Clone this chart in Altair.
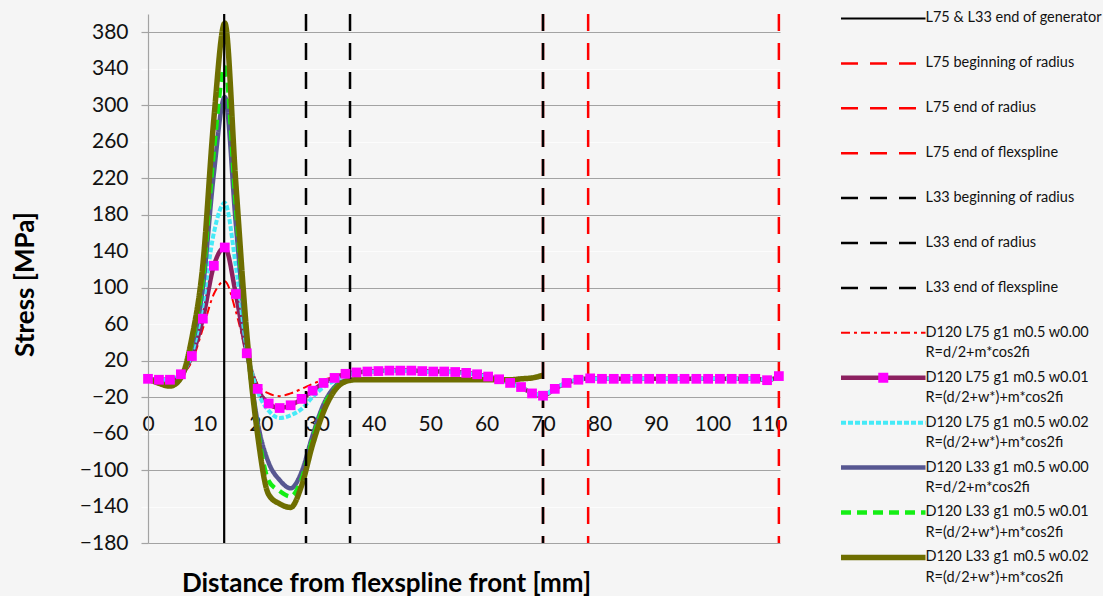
import altair as alt
import pandas as pd

# ---------------- data ----------------
X75 = [0.0, 1.94, 3.89, 5.83, 7.78, 9.72, 11.67, 13.61, 15.56, 17.5,
       19.44, 21.39, 23.33, 25.28, 27.22, 29.17, 31.11, 33.06, 35.0, 36.94,
       38.89, 40.83, 42.78, 44.72, 46.67, 48.61, 50.56, 52.5, 54.44, 56.39,
       58.33, 60.28, 62.22, 64.17, 66.11, 68.06, 70.0,
       72.09, 74.18, 76.27, 78.36, 80.45, 82.54, 84.63, 86.72, 88.81,
       90.9, 92.99, 95.08, 97.17, 99.26, 101.35, 103.44, 105.53, 107.62, 109.71, 111.8]
X33 = X75[:37]

L75_W000 = [0, -1, -1, 4, 19, 55, 93, 107, 74, 27,
            -6, -16, -19, -16, -11, -5.5, -1, 2, 5, 6.5,
            7.5, 8, 8.5, 8.5, 8.5, 8, 7.5, 7.5, 7, 6,
            4.5, 2, -1, -4.5, -9, -15, -17,
            -10, -4, -1, 0.5, 0, 0, 0, 0, 0,
            0, 0, 0, 0, 0, 0, 0, 0, 0, -1, 2.5]
L75_W001 = [0, -1, -1, 5, 25, 66, 124, 144, 93, 28,
            -11, -27, -32, -29, -22, -13, -4.5, 1, 5.5, 7,
            8, 8.5, 9, 9, 9, 8.5, 8, 8, 7.5, 6.5,
            5, 2.5, -0.5, -4.5, -9, -16, -18.5,
            -11, -4.5, -1, 0.5, 0, 0, 0, 0, 0,
            0, 0, 0, 0, 0, 0, 0, 0, 0, -1.5, 3]
L75_W002 = [0, -1, -1, 5, 28, 82, 160, 193, 124, 33,
            -14, -35, -43, -40, -33, -20, -9, -2, 4, 6.5,
            7.5, 8, 8.5, 8.5, 8.5, 8, 7.5, 7.5, 7, 6,
            4.5, 2, -1, -4.5, -9, -15.5, -18,
            -10.5, -4, -1, 0, 0, 0, 0, 0, 0,
            0, 0, 0, 0, 0, 0, 0, 0, 0, -1, 2.5]
L33_W000 = [0, -4, -7, 1, 36, 100, 225, 309, 170, 40,
            -48, -92, -111, -120, -102, -62, -28, -9, -2, -1,
            -1, -1, -1, -1, -1, -1, -1, -1, -1, -1,
            -1, -1, -1, -1, 0, 1, 3]
L33_W001 = [0, -4, -7, 1, 40, 110, 250, 342, 190, 44,
            -56, -112, -123, -129, -110, -66, -31, -11, -2, -1,
            -1, -1, -1, -1, -1, -1, -1, -1, -1, -1,
            -1, -1, -1, -1, 0, 1, 4]
L33_W002 = [0, -5, -8, 1, 45, 125, 285, 390, 215, 50,
            -62, -127, -137, -141, -117, -72, -36, -13, -3, -1,
            -1, -1, -1, -1, -1, -1, -1, -1, -1, -1,
            -1, -1, -1, -1, 0, 1, 4]

SERIES = [
    "L75 & L33 end of generator",
    "L75 beginning of radius",
    "L75 end of radius",
    "L75 end of flexspline",
    "L33 beginning of radius",
    "L33 end of radius",
    "L33 end of flexspline",
    "D120 L75 g1 m0.5 w0.00",
    "D120 L75 g1 m0.5 w0.01",
    "D120 L75 g1 m0.5 w0.02",
    "D120 L33 g1 m0.5 w0.00",
    "D120 L33 g1 m0.5 w0.01",
    "D120 L33 g1 m0.5 w0.02",
]
SUBLABELS = ["", "", "", "", "", "", "",
             "R=d/2+m*cos2fi", "R=(d/2+w*)+m*cos2fi", "R=(d/2+w*)+m*cos2fi",
             "R=d/2+m*cos2fi", "R=(d/2+w*)+m*cos2fi", "R=(d/2+w*)+m*cos2fi"]
VLINE_X = [13.5, 70.0, 78.0, 111.8, 28.0, 35.8, 70.0]
X_TICKS = [0, 10, 20, 30, 40, 50, 60, 70, 80, 90, 100, 110]
Y_TICKS = [-180, -140, -100, -60, -20, 20, 60, 100, 140, 180, 220, 260, 300, 340, 380]

# ---------------- styles ----------------
COLORS = ["#000000", "#FF0000", "#FF0000", "#FF0000", "#000000", "#000000", "#000000",
          "#FF0000", "#8C2160", "#45EAF7", "#575791", "#14EE14", "#6E6E00"]
DASHES = [[1, 0], [17, 12], [17, 12], [17, 12], [17, 12], [17, 12], [17, 12],
          [9, 4, 3, 4], [1, 0], [5, 2], [1, 0], [10, 6], [1, 0]]
WIDTHS = [2.2, 2.5, 2.5, 2.5, 2.5, 2.5, 2.5, 2.0, 4.5, 4.0, 4.5, 4.5, 5.5]
MARKER_COLOR = "#FF00FF"
FONT = "Lato"

curve_x = {7: X75, 8: X75, 9: X75, 10: X33, 11: X33, 12: X33}
curve_y = {7: L75_W000, 8: L75_W001, 9: L75_W002, 10: L33_W000, 11: L33_W001, 12: L33_W002}

rows = []
for k in curve_x:
    for i, (xv, yv) in enumerate(zip(curve_x[k], curve_y[k])):
        rows.append({"series": SERIES[k], "x": xv, "y": yv, "i": i, "sw": WIDTHS[k]})
curves = pd.DataFrame(rows)

vlines = pd.DataFrame({"series": SERIES[:7], "x": VLINE_X, "sw": WIDTHS[:7]})

legend_df = pd.DataFrame({
    "idx": list(range(len(SERIES))),
    "series": SERIES,
    "sub": SUBLABELS,
    "sw": WIDTHS,
    "marker": [1 if k == 8 else 0 for k in range(len(SERIES))],
})

color_scale = alt.Scale(domain=SERIES, range=COLORS)
dash_scale = alt.Scale(domain=SERIES, range=DASHES)
color_enc = alt.Color("series:N", scale=color_scale, legend=None)
dash_enc = alt.StrokeDash("series:N", scale=dash_scale, legend=None)
width_enc = alt.StrokeWidth("sw:Q", scale=None)

strong = "indexof([380,300,220,180,100,20,-20,-100,-180], datum.value) >= 0"
grid_cond = {"condition": {"test": strong, "value": "#A3A3A3"}, "value": "#FCFCFC"}

x_enc = alt.X(
    "x:Q",
    scale=alt.Scale(domain=[0, 112], nice=False, zero=False),
    axis=alt.Axis(
        values=X_TICKS, grid=False, domain=False, ticks=False, offset=-130,
        labelPadding=0, labelFontSize=21, labelColor="#111111", labelFont=FONT,
        labelFlush=False, labelOverlap=False,
        title="Distance from flexspline front [mm]", titleFont=FONT, titleFontSize=26,
        titleFontWeight="bold", titleColor="#000000", titleX=238, titleY=170,
        titleAlign="center", titleBaseline="middle",
    ),
)
y_enc = alt.Y(
    "y:Q",
    scale=alt.Scale(domain=[-180, 400], nice=False, zero=False),
    axis=alt.Axis(
        values=Y_TICKS, grid=True, gridColor=grid_cond, gridWidth=1.2,
        tickColor=grid_cond, tickSize=7, tickWidth=1.2,
        domain=True, domainColor="#A3A3A3", domainWidth=1.2,
        labelPadding=13, labelFontSize=21, labelColor="#111111", labelFont=FONT,
        labelFlush=False, labelOverlap=False,
        title="Stress [MPa]", titleFont=FONT, titleFontSize=26, titleFontWeight="bold",
        titleColor="#000000", titleAngle=270, titleX=-123, titleY=270,
        titleAlign="center", titleBaseline="middle",
    ),
)

base = alt.Chart(curves)


def curve_layer(k):
    return base.transform_filter(alt.datum.series == SERIES[k]).mark_line(
        strokeJoin="round", interpolate="monotone"
    ).encode(
        x=x_enc, y=y_enc, color=color_enc, strokeDash=dash_enc, strokeWidth=width_enc,
        order=alt.Order("i:Q"),
    )


rules = alt.Chart(vlines).mark_rule().encode(
    x=alt.X("x:Q"), color=color_enc, strokeDash=dash_enc, strokeWidth=width_enc
)
squares = base.transform_filter(alt.datum.series == SERIES[8]).mark_square(
    size=95, color=MARKER_COLOR, opacity=1
).encode(x=x_enc, y=y_enc)

main = alt.layer(
    curve_layer(7), curve_layer(8), curve_layer(9), curve_layer(10),
    curve_layer(11), curve_layer(12), rules, squares,
).properties(width=632, height=529)

# ---------------- legend panel ----------------
lx = alt.Scale(domain=[0, 3.1], nice=False, zero=False)
ly = alt.Scale(domain=[-0.1, 12.37], nice=False, zero=False, reverse=True)
lbase = alt.Chart(legend_df)
leg_rules = lbase.mark_rule().encode(
    x=alt.XDatum(0, scale=lx, axis=None), x2=alt.X2Datum(1),
    y=alt.Y("idx:Q", scale=ly, axis=None),
    color=color_enc, strokeDash=dash_enc, strokeWidth=width_enc,
)
leg_mark = lbase.transform_filter(alt.datum.marker == 1).mark_square(
    size=100, color=MARKER_COLOR, opacity=1
).encode(x=alt.XDatum(0.5, scale=lx, axis=None), y=alt.Y("idx:Q", scale=ly, axis=None))
leg_text = lbase.mark_text(align="left", baseline="middle", font=FONT, fontSize=14.5,
                           color="#111111").encode(
    x=alt.XDatum(1.0, scale=lx, axis=None), y=alt.Y("idx:Q", scale=ly, axis=None),
    text="series:N",
)
leg_sub = lbase.mark_text(align="left", baseline="middle", font=FONT, fontSize=14.5,
                          color="#111111", dy=20.5).encode(
    x=alt.XDatum(1.0, scale=lx, axis=None), y=alt.Y("idx:Q", scale=ly, axis=None),
    text="sub:N",
)
legend_panel = alt.layer(leg_rules, leg_mark, leg_text, leg_sub).properties(
    width=262, height=560
)

chart = alt.hconcat(main, legend_panel, spacing=51).resolve_scale(
    x="independent", y="independent"
).properties(
    background="#F5F5F5",
    padding={"left": 12, "top": 10, "right": 0, "bottom": 0},
).configure_view(stroke=None)

chart.save("out.html", embed_options={"renderer": "svg", "actions": False})
